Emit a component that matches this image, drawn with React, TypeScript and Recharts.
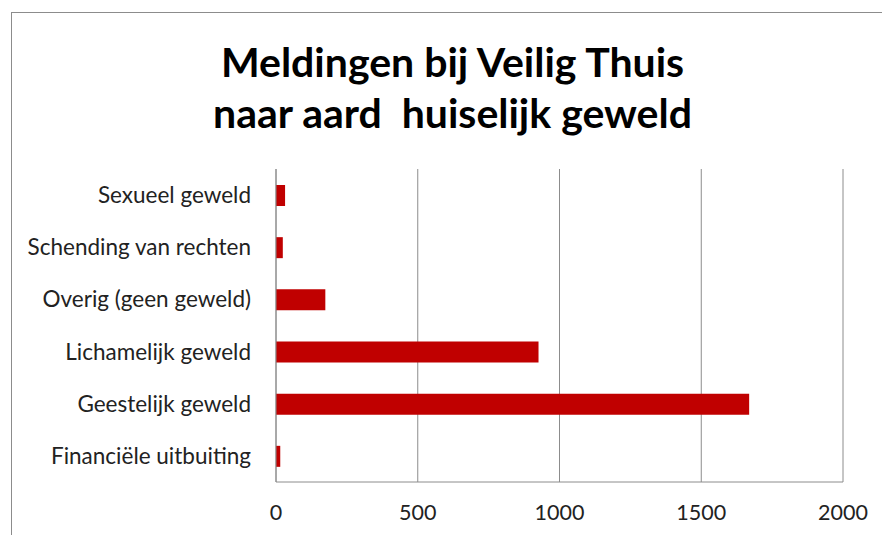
import React from "react";
import { BarChart, Bar, XAxis, YAxis, CartesianGrid } from "recharts";

const categories = [
  "Sexueel geweld",
  "Schending van rechten",
  "Overig (geen geweld)",
  "Lichamelijk geweld",
  "Geestelijk geweld",
  "Financiële uitbuiting",
];
const meldingen = [32, 24, 174, 926, 1669, 15];
const xTicks = [0, 500, 1000, 1500, 2000];

const data = categories.map((categorie, i) => ({
  categorie,
  meldingen: meldingen[i],
}));

const FONT = "Lato, 'Open Sans', sans-serif";

const App: React.FC = () => {
  return (
    <div
      style={{
        position: "absolute",
        left: 0,
        top: 0,
        width: 882,
        height: 535,
        overflow: "hidden",
        background: "#fff",
        fontFamily: FONT,
      }}
    >
      <div
        style={{
          position: "absolute",
          left: 11,
          top: 12,
          width: 900,
          height: 600,
          border: "1px solid #8c8c8c",
        }}
      />
      <div
        style={{
          position: "absolute",
          left: 0,
          top: 36,
          width: 905,
          textAlign: "center",
          fontWeight: "bold",
          fontSize: 41,
          lineHeight: "51px",
          color: "#000",
        }}
      >
        Meldingen bij Veilig Thuis
        <br />
        naar aard&nbsp; huiselijk geweld
      </div>
      <div style={{ position: "absolute", left: 0, top: 0 }}>
        <BarChart
          layout="vertical"
          width={882}
          height={535}
          data={data}
          margin={{ top: 169, right: 39, bottom: 0, left: 0 }}
        >
          <CartesianGrid horizontal={false} stroke="#8c8c8c" />
          <XAxis
            type="number"
            domain={[0, 2000]}
            ticks={xTicks}
            height={53}
            tickLine={false}
            tickSize={0}
            tickMargin={23}
            axisLine={{ stroke: "#8c8c8c" }}
            tick={{ fill: "#222", fontSize: 21.5, fontFamily: FONT }}
          />
          <YAxis
            type="category"
            dataKey="categorie"
            width={276}
            tickLine={false}
            tickSize={0}
            tickMargin={25}
            axisLine={{ stroke: "#8c8c8c" }}
            tick={{ fill: "#222", fontSize: 22.5, fontFamily: FONT }}
          />
          <Bar
            dataKey="meldingen"
            fill="#c00000"
            barSize={21}
            isAnimationActive={false}
          />
        </BarChart>
      </div>
    </div>
  );
};

export default App;
